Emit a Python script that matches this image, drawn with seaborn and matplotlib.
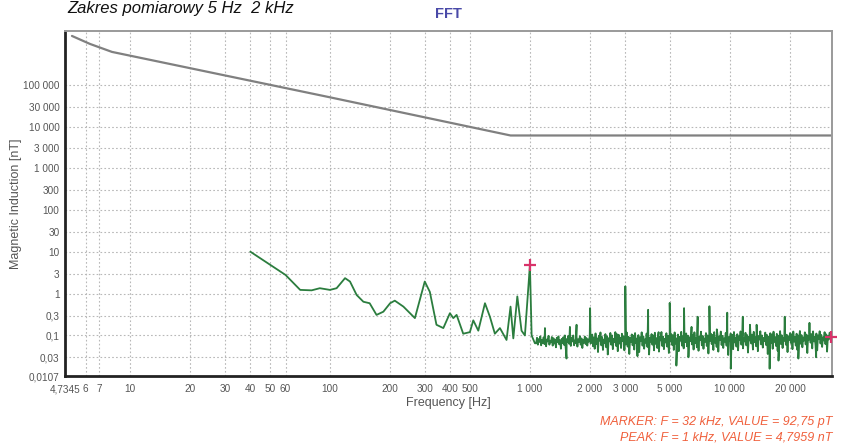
import numpy as np
import pandas as pd
import matplotlib
matplotlib.use("Agg")
import matplotlib.pyplot as plt
import seaborn as sns

# ---- data -------------------------------------------------------------
# limit curve (frequency in Hz, induction in nT)
limit_freq = [5.13, 6.3, 8.13, 100, 800, 32000]
limit_val = [1.47e6, 9.5e5, 6.1e5, 5.0e4, 6100, 6100]

# measured spectrum, low-frequency part
low_freq = [40, 60, 71, 81, 89, 100, 108, 119, 126, 136, 147, 158, 171, 185,
            200, 211, 233, 266, 298, 316, 341, 369, 398, 414, 430, 464, 501,
            521, 552, 596, 631, 668, 708, 764, 800, 826, 865, 908, 944, 1000,
            1020, 1059]
low_val = [10.1, 2.8, 1.23, 1.2, 1.35, 1.23, 1.35, 2.35, 1.95, 0.93, 0.64,
           0.59, 0.31, 0.37, 0.59, 0.68, 0.49, 0.26, 1.95, 1.1, 0.18, 0.15,
           0.34, 0.26, 0.31, 0.11, 0.12, 0.23, 0.13, 0.59, 0.28, 0.11, 0.15,
           0.078, 0.49, 0.085, 0.86, 0.13, 0.10, 4.7959, 0.10, 0.065]

# noise floor above 1 kHz, in pT (one value per bin)
noise_pt = [
    65, 88, 60, 82, 70, 95, 58, 78, 66, 90, 62, 84, 55, 80, 72, 98, 60, 75,
    68, 92, 57, 86, 64, 79, 52, 88, 70, 95, 61, 77, 48, 83, 66, 91, 59, 74,
    45, 82, 69, 97, 63, 80, 56, 89, 72, 100, 58, 76, 66, 93, 54, 81, 70, 96,
    60, 85, 50, 78, 67, 94, 62, 87, 57, 80, 71, 99, 64,
    70, 105, 55, 90, 48, 112, 62, 85, 40, 98, 75, 118, 58, 92, 45, 80, 66,
    108, 52, 95, 38, 86, 72, 115, 60, 100, 47, 83, 69, 120, 56, 91, 42, 104,
    64, 88, 50, 110, 73, 96, 44, 82, 61, 117, 54, 93, 36, 87, 70, 106, 58,
    99, 46, 114, 65, 84, 52, 102, 40, 90, 74, 119, 57, 95, 48, 81, 67, 111,
    53, 97, 35, 89, 71, 108, 60, 100, 44, 116, 63, 86, 50, 103, 41, 92, 76,
    121, 56, 94, 47, 83, 68, 113, 54, 98, 38, 88, 72, 107, 59, 101, 45, 118,
    64, 85, 51, 105, 42, 93, 75, 122, 57, 96, 49, 80, 69, 112, 55, 99, 33,
    90, 73, 109, 61, 102, 46, 119, 66, 87, 52, 104, 43, 94, 77, 123, 58, 97,
    48, 84, 70, 114, 56, 100, 37, 91, 74, 110, 62, 103, 45, 120, 67, 88, 53,
    106, 41, 95, 78, 124, 59, 98, 50, 85, 71, 115, 57, 101, 34, 92, 75, 111,
    63, 104, 47, 121, 68, 89, 54, 107, 44, 96, 79, 125, 60, 99, 49, 86, 72,
    116, 58, 102, 39, 93, 76, 112, 64, 105, 46, 122, 69, 90, 55, 108, 42, 97,
    80, 126, 61, 100, 51, 87, 73, 117, 59, 103, 36, 94, 77, 113, 65, 106, 48,
    123, 70, 91, 56, 109, 43, 98, 81, 127, 62, 101, 50, 88, 74, 118, 60, 104,
    40, 95, 78, 114, 66, 107, 47, 124, 71, 92, 57, 110, 45, 99, 82, 128, 63,
    102, 52, 89, 75, 119, 61, 105, 38, 96, 79, 115, 67, 108, 49, 125, 72, 93,
    58, 111, 44, 100, 83, 126, 64, 103, 53, 90, 76, 120, 62, 106, 41, 97, 80,
    116,
]

# harmonic lines and deep bins above 1 kHz (Hz, nT)
line_freq = [1189, 1496, 1524, 1585, 1711, 2000, 2450, 2710, 3000, 3450, 3900,
             4400, 5000, 5400, 5900, 6200, 6430, 6900, 7900, 8600, 9700,
             10100, 11600, 12600, 13600, 15800, 17500, 18800, 22000, 25000,
             27000]
line_val = [0.15, 0.10, 0.028, 0.16, 0.18, 0.45, 0.035, 0.11, 1.5, 0.032,
            0.41, 0.12, 0.60, 0.019, 0.45, 0.030, 0.16, 0.28, 0.50, 0.14,
            0.35, 0.016, 0.28, 0.18, 0.18, 0.016, 0.025, 0.28, 0.028, 0.20,
            0.030]

marker_f, marker_v = 32000, 0.09275   # 92,75 pT
peak_f, peak_v = 1000, 4.7959

x_ticks = [4.7345, 6, 7, 10, 20, 30, 40, 50, 60, 100, 200, 300, 400, 500,
           1000, 2000, 3000, 5000, 10000, 20000]
x_labels = ["4,7345", "6", "7", "10", "20", "30", "40", "50", "60", "100",
            "200", "300", "400", "500", "1 000", "2 000", "3 000", "5 000",
            "10 000", "20 000"]
y_ticks = [0.0107, 0.03, 0.1, 0.3, 1, 3, 10, 30, 100, 300, 1000, 3000,
           10000, 30000, 100000]
y_labels = ["0,0107", "0,03", "0,1", "0,3", "1", "3", "10", "30", "100",
            "300", "1 000", "3 000", "10 000", "30 000", "100 000"]

# ---- assemble spectrum ------------------------------------------------
noise_freq = np.geomspace(1075, 31500, len(noise_pt))
spec = pd.concat([
    pd.DataFrame({"f": low_freq, "B": low_val}),
    pd.DataFrame({"f": noise_freq, "B": np.array(noise_pt) / 1000.0}),
    pd.DataFrame({"f": line_freq, "B": line_val}),
    pd.DataFrame({"f": [marker_f], "B": [marker_v]}),
]).sort_values("f").reset_index(drop=True)
limit = pd.DataFrame({"f": limit_freq, "B": limit_val})

# ---- figure -----------------------------------------------------------
sns.set_theme(style="white")
plt.rcParams["font.family"] = ["Liberation Sans", "DejaVu Sans"]

W, H = 841, 448
fig = plt.figure(figsize=(W / 100, H / 100), dpi=100)
fig.patch.set_facecolor("white")
ax = fig.add_axes([65 / W, 1 - 376 / H, (832 - 65) / W, (376 - 31) / H])

ax.set_xscale("log")
ax.set_yscale("log")
ax.set_xlim(4.7345, 32400)
ax.set_ylim(0.0107, 1.93e6)

grid_kw = dict(color="#b8b8b8", lw=0.8, ls=(0, (1.5, 2.0)), zorder=0)
for x in x_ticks[1:]:
    ax.axvline(x, **grid_kw)
for y in y_ticks[1:]:
    ax.axhline(y, **grid_kw)

sns.lineplot(data=limit, x="f", y="B", ax=ax, color="#808080", lw=1.6,
             estimator=None, sort=False, legend=False)
sns.lineplot(data=spec, x="f", y="B", ax=ax, color="#2b7d3e", lw=1.3,
             estimator=None, sort=False, legend=False)

ax.plot([peak_f, marker_f], [peak_v, marker_v], ls="none", marker="+",
        ms=9, mew=1.6, color="#d8336a", clip_on=False, zorder=5)

ax.set_xticks(x_ticks)
ax.set_xticklabels(x_labels)
ax.set_yticks(y_ticks)
ax.set_yticklabels(y_labels)
ax.minorticks_off()
ax.tick_params(axis="both", length=0, labelsize=7.2, colors="#555555")
ax.tick_params(axis="x", pad=6)
ax.tick_params(axis="y", pad=4)

ax.set_xlabel("Frequency [Hz]", fontsize=9, color="#555555", labelpad=2)
ax.set_ylabel("Magnetic Induction [nT]", fontsize=9, color="#555555",
              labelpad=1)
ax.set_title("FFT", fontsize=10.5, fontweight="bold", color="#4a4aa8", pad=9)

for side in ("left", "bottom"):
    ax.spines[side].set_color("#222222")
    ax.spines[side].set_linewidth(2.0)
for side in ("top", "right"):
    ax.spines[side].set_color("#9a9a9a")
    ax.spines[side].set_linewidth(1.4)

fig.text(67 / W, 1 - 1 / H, "Zakres pomiarowy 5 Hz  2 kHz", fontsize=12,
         style="italic", color="#111111", ha="left", va="top")

fig.text(832 / W, 1 - 422 / H, "MARKER: F = 32 kHz, VALUE = 92,75 pT",
         fontsize=9, style="italic", color="#f0603c", ha="right",
         va="center")
fig.text(832 / W, 1 - 437 / H, "PEAK: F = 1 kHz, VALUE = 4,7959 nT",
         fontsize=9, style="italic", color="#f0603c", ha="right",
         va="center")

fig.savefig("out.png", dpi=100, facecolor="white")
